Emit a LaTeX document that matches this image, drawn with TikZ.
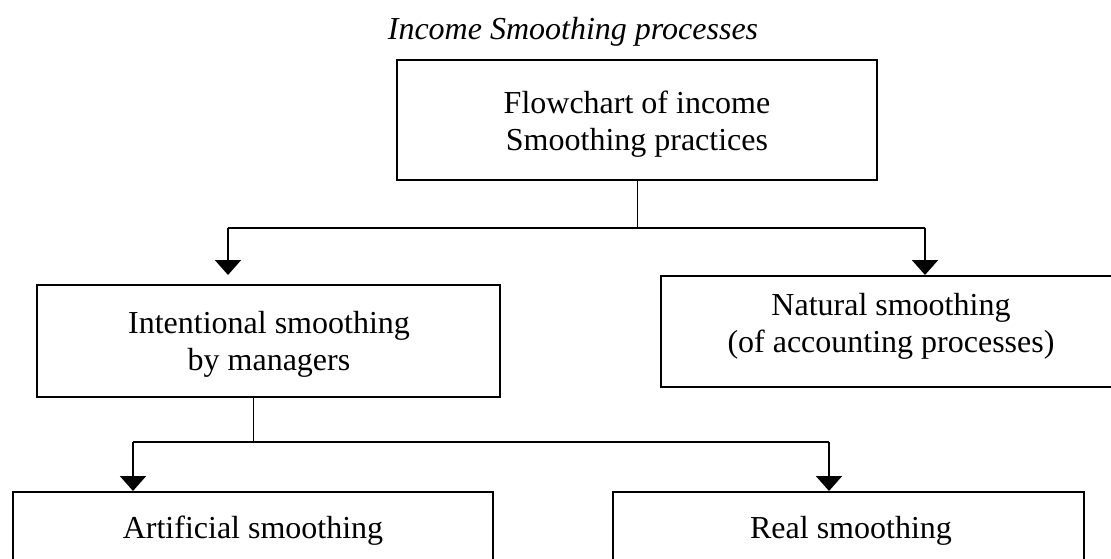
\documentclass[tikz,border=0pt]{standalone}
\usepackage{fontspec}
\setmainfont{Liberation Serif}
\usetikzlibrary{arrows.meta}
\begin{document}
\begin{tikzpicture}[x=1pt,y=1pt,
  every node/.style={font=\fontsize{32}{37}\selectfont, inner sep=0pt},
  box/.style={draw, line width=2pt, rectangle},
  txt/.style={align=center, anchor=base},
  stub/.style={line width=1pt},
  bar/.style={line width=1.6pt},
  arr/.style={line width=2pt, -{Triangle[width=26pt,length=15pt]}}]
\useasboundingbox (0,0) rectangle (1111,-559);
% title
\node[anchor=base, font=\fontsize{32}{37}\selectfont\itshape] (title) at (573,-40) {Income Smoothing processes};
% boxes
\node[box, minimum width=480pt, minimum height=120pt] (top) at (637,-120) {};
\node[txt] (topT) at (637,-150) {Flowchart of income\\Smoothing practices};
\node[box, minimum width=463pt, minimum height=112pt] (intent) at (268.5,-341) {};
\node[txt] (intentT) at (269,-370) {Intentional smoothing\\by managers};
\node[box, minimum width=462pt, minimum height=111pt] (natural) at (892,-331.5) {};
\node[txt] (naturalT) at (891,-352) {Natural smoothing\\(of accounting processes)};
\node[box, minimum width=480pt, minimum height=120pt] (artif) at (253,-552) {};
\node[txt] (artifT) at (253,-538) {Artificial smoothing};
\node[box, minimum width=471pt, minimum height=120pt] (real) at (848.5,-552) {};
\node[txt] (realT) at (851,-538) {Real smoothing};
% connectors level 1
\coordinate (j1) at (637,-228);
\coordinate (l1) at (228,-228);
\coordinate (r1) at (925,-228);
\draw[stub] (top.south) -- (j1);
\draw[bar] (l1) -- (r1);
\draw[arr, shorten >=9pt] (l1) -- (l1 |- intent.north);
\draw[arr] (r1) -- (r1 |- natural.north);
% connectors level 2
\coordinate (j2) at (253,-442);
\coordinate (l2) at (133,-442);
\coordinate (r2) at (829,-442);
\draw[stub] (intent.south -| j2) -- (j2);
\draw[bar] (l2) -- (r2);
\draw[arr] (l2) -- (l2 |- artif.north);
\draw[arr] (r2) -- (r2 |- real.north);
\end{tikzpicture}
\end{document}
